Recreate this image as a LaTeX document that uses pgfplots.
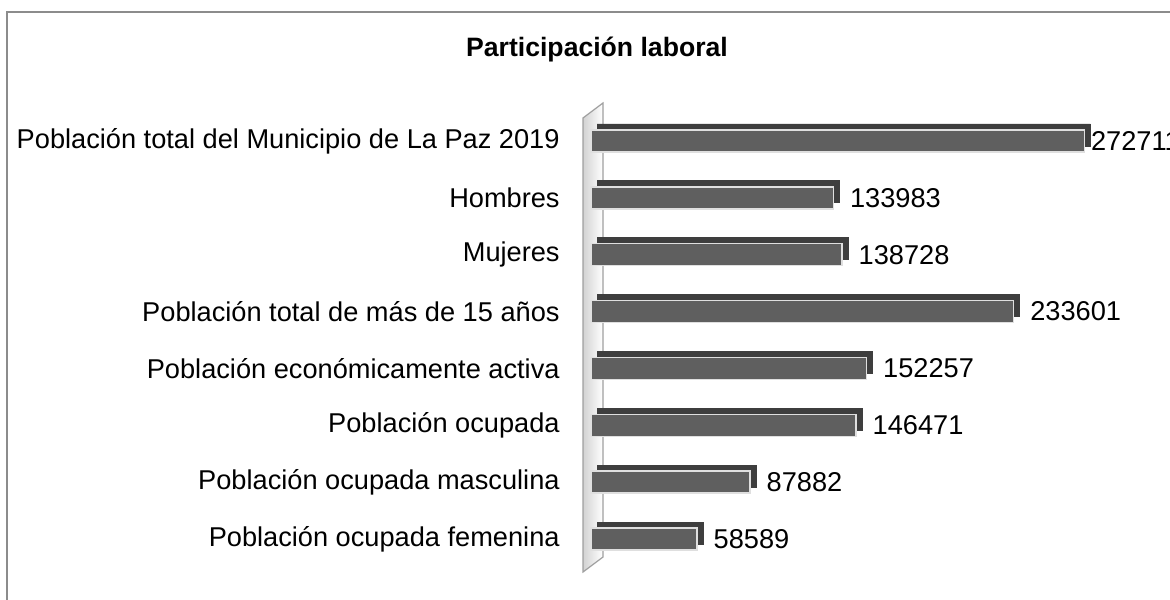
\documentclass[border=0pt]{standalone}
\usepackage{fontspec}
\setmainfont{Liberation Sans}
\usepackage{pgfplots}
\pgfplotsset{compat=1.18}

\definecolor{barfront}{HTML}{5F5F5F}
\definecolor{bardepth}{HTML}{3E3E3E}
\definecolor{frame}{HTML}{8C8C8C}

\pgfplotstableread{
idx value shift
0 272711 3
1 133983 8
2 138728 8
3 233601 8
4 152257 8
5 146471 8
6 87882 8
7 58589 8
}\labordata

\begin{document}
\begin{tikzpicture}
\fontsize{13.6bp}{16bp}\selectfont
\path[use as bounding box] (0,0) rectangle (585bp,300bp);
% outer frame (cut at right and bottom)
\draw[frame, line width=0.8bp] (3.5bp,-3bp) -- (3.5bp,294bp) -- (590bp,294bp);
% title
\node[font=\fontsize{13.3bp}{15bp}\selectfont\bfseries] at (298.5bp,275bp) {Participación laboral};
% left wall
\shade[left color=gray!35, right color=white, draw=gray!75, line width=0.6bp]
  (291.5bp,241bp) -- (301.5bp,248.5bp) -- (301.5bp,21.5bp) -- (291.5bp,14bp) -- cycle;
\begin{axis}[
    at={(295.5bp,16.25bp)}, anchor=south west,
    scale only axis,
    width=271.35bp, height=227.5bp,
    xmin=0, xmax=300000,
    ymin=-0.5, ymax=7.5,
    y dir=reverse,
    axis line style={draw=none},
    xtick=\empty,
    ytick={0,1,2,3,4,5,6,7},
    yticklabels={Población total del Municipio de La Paz 2019, Hombres, Mujeres,
      Población total de más de 15 años, Población económicamente activa,
      Población ocupada, Población ocupada masculina, Población ocupada femenina},
    major tick length=0pt,
    yticklabel style={font=\fontsize{13.6bp}{16bp}\selectfont, inner sep=0pt, xshift=-15.5bp},
    xbar, bar width=11bp, bar shift=0pt,
    clip=false,
]
% depth of the bars
\addplot[fill=bardepth, draw=bardepth, line width=0.4bp, bar shift=0pt, xshift=3bp, yshift=3bp]
  table[x=value, y=idx] {\labordata};
% front faces with values
\addplot[fill=barfront, draw=gray!25, line width=0.7bp, bar shift=0pt,
    point meta=x,
    visualization depends on={\thisrow{shift} \as \lshift},
    nodes near coords={\pgfmathprintnumber[fixed,precision=0,1000 sep={},assume math mode=true]{\pgfplotspointmeta}},
    nodes near coords style={font=\fontsize{13.6bp}{16bp}\selectfont, text=black, anchor=west, inner sep=0pt, xshift=\lshift bp}]
  table[x=value, y=idx] {\labordata};
\end{axis}
\end{tikzpicture}
\end{document}
